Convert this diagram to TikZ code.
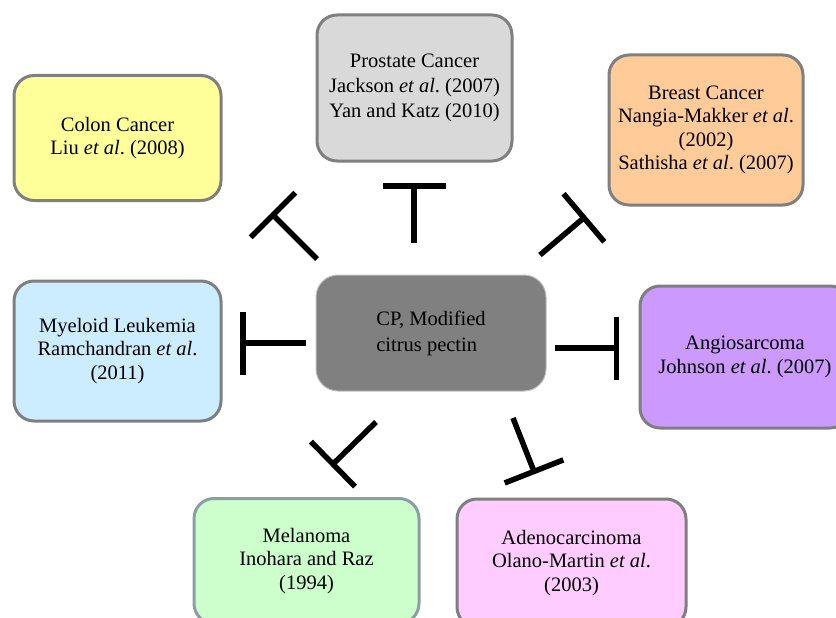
\documentclass[tikz,border=0pt]{standalone}
\usepackage{fontspec}
\setmainfont{Liberation Serif}
\usetikzlibrary{arrows.meta}
\frenchspacing

\definecolor{colonfill}{HTML}{FFFF99}
\definecolor{prostatefill}{HTML}{D9D9D9}
\definecolor{breastfill}{HTML}{FFCC99}
\definecolor{myeloidfill}{HTML}{CCECFF}
\definecolor{cpfill}{HTML}{808080}
\definecolor{angiofill}{HTML}{CC99FF}
\definecolor{melanomafill}{HTML}{CCFFCC}
\definecolor{adenofill}{HTML}{FFCCFF}
\definecolor{boxline}{HTML}{7F7F7F}
\definecolor{melanomaline}{HTML}{8C9DA6}

\tikzset{
    cancer/.style={draw=boxline, line width=3pt, rounded corners=20pt,
        align=center, inner sep=0pt, font=\fontsize{20.5}{23.5}\selectfont},
    inhib/.style={line width=5.5pt, -{Bar[width=63pt]}}
}

\begin{document}
\begin{tikzpicture}[x=1pt, y=-1pt]
        \useasboundingbox (0, 0) rectangle (836, 618);
        \clip (0, 0) rectangle (836, 618);
%
        \node [draw=black!25, line width=1pt, fill=cpfill, rounded corners=22pt,
               minimum width=230pt, minimum height=116pt, align=left,
               font=\fontsize{20.5}{26}\selectfont, text=black]
              (cp) at (431, 333) {CP, Modified\\citrus pectin};
%
        \node [cancer, fill=colonfill, minimum width=207pt, minimum height=125pt]
              (colon) at (117.5, 138) {Colon Cancer\\Liu \textit{et al}. (2008)};
        \node [cancer, fill=prostatefill, minimum width=195pt, minimum height=146pt,
               font=\fontsize{20.5}{25}\selectfont]
              (prostate) at (414.5, 88) {Prostate Cancer\\Jackson \textit{et al}. (2007)\\Yan and Katz (2010)};
        \node [cancer, fill=breastfill, minimum width=194pt, minimum height=150pt]
              (breast) at (706, 130) {Breast Cancer\\Nangia-Makker \textit{et al}.\\(2002)\\Sathisha \textit{et al}. (2007)};
        \node [cancer, fill=myeloidfill, minimum width=207pt, minimum height=140pt]
              (myeloid) at (117.5, 351) {Myeloid Leukemia\\Ramchandran \textit{et al}.\\(2011)};
        \node [cancer, fill=angiofill, minimum width=210pt, minimum height=142pt]
              (angio) at (745, 357) {Angiosarcoma\\Johnson \textit{et al}. (2007)};
        \node [cancer, draw=melanomaline, fill=melanomafill, minimum width=225pt, minimum height=125pt]
              (melanoma) at (306.5, 561) {Melanoma\\Inohara and Raz\\(1994)};
        \node [cancer, fill=adenofill, minimum width=229pt, minimum height=128pt]
              (adeno) at (571.5, 563) {Adenocarcinoma\\Olano-Martin \textit{et al}.\\(2003)};
%
        \foreach \n/\sx/\sy/\ex/\ey in
        {
            colon/317/259/271/213,
            prostate/414/243/414/183,
            breast/540/255/586/216,
            myeloid/306/343/240/343,
            angio/555/348/619/348,
            melanoma/376/422/331/466,
            adeno/513/418/535/474
        }
        {
            \coordinate (s-\n) at (\sx, \sy);
            \coordinate (e-\n) at (\ex, \ey);
            \draw [inhib] (s-\n) -- (e-\n);
        }
    \end{tikzpicture}
\end{document}
